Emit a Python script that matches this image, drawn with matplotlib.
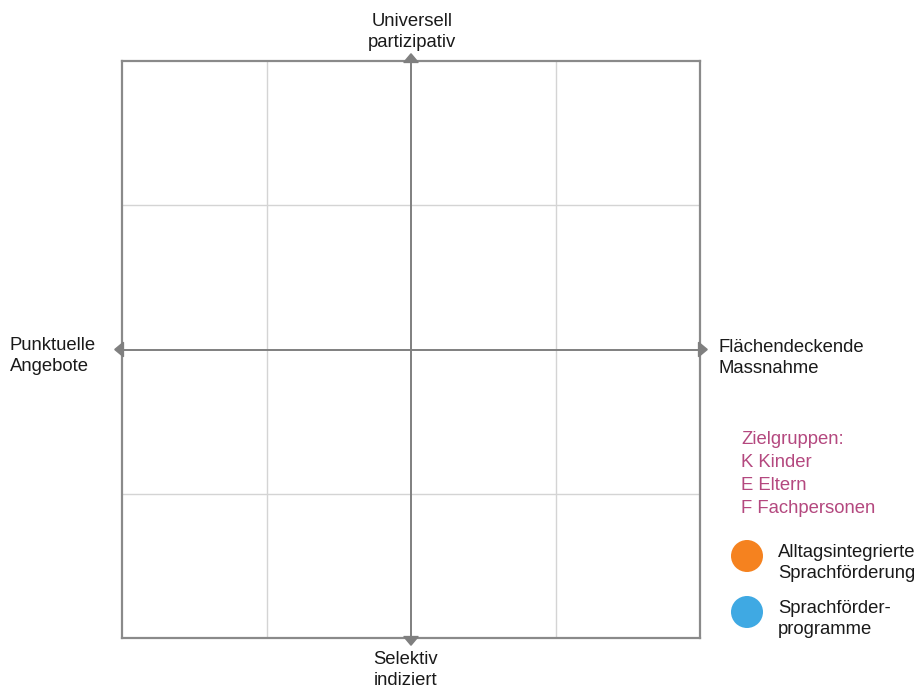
import matplotlib
matplotlib.use("Agg")
import matplotlib.pyplot as plt
from matplotlib.patches import Polygon, Ellipse

plt.rcParams['font.family'] = ['Liberation Sans', 'DejaVu Sans']

# --- data ---
x_range = [-2, 2]
y_range = [-2, 2]
grid_x = [-1, 1]
grid_y = [-1, 1]
axis_top = "Universell\npartizipativ"
axis_bottom = "Selektiv\nindiziert"
axis_left = "Punktuelle\nAngebote"
axis_right = "Flächendeckende\nMassnahme"
target_groups = ["Zielgruppen:", "K Kinder", "E Eltern", "F Fachpersonen"]
legend_labels = ["Alltagsintegrierte\nSprachförderung", "Sprachförder-\nprogramme"]
legend_colors = ["#f5821f", "#3fa9e3"]

W, H = 920, 691
fig = plt.figure(figsize=(W / 100, H / 100), dpi=100)
ax = fig.add_axes([122 / W, 1 - 638 / H, 578 / W, 577 / H])
ax.set_xlim(*x_range)
ax.set_ylim(*y_range)
ax.set_xticks([])
ax.set_yticks([])
for s in ax.spines.values():
    s.set_color("#8a8a8a")
    s.set_linewidth(1.6)

for gx in grid_x:
    ax.axvline(gx, color="#d4d4d4", lw=1.0, zorder=1)
for gy in grid_y:
    ax.axhline(gy, color="#d4d4d4", lw=1.0, zorder=1)

axc = "#7f7f7f"
ext = 0.05
ax.plot([0, 0], [y_range[0] - 0.02, y_range[1] + 0.02], color=axc, lw=1.4, clip_on=False, zorder=3)
ax.plot([x_range[0] - 0.02, x_range[1] + 0.02], [0, 0], color=axc, lw=1.4, clip_on=False, zorder=3)

# arrowheads
hw, hl = 0.05, 0.06
heads = [
    [(0, y_range[1] + ext), (-hw, y_range[1] + ext - hl), (hw, y_range[1] + ext - hl)],
    [(0, y_range[0] - ext), (-hw, y_range[0] - ext + hl), (hw, y_range[0] - ext + hl)],
    [(x_range[1] + ext, 0), (x_range[1] + ext - hl, hw), (x_range[1] + ext - hl, -hw)],
    [(x_range[0] - ext, 0), (x_range[0] - ext + hl, hw), (x_range[0] - ext + hl, -hw)],
]
for h in heads:
    ax.add_patch(Polygon(h, closed=True, color=axc, clip_on=False, zorder=4))

def px(x, y):
    return x / W, 1 - y / H

fs = 13.3
ls = 1.38
tc = "#1a1a1a"
fig.text(*px(412, 32), axis_top, ha="center", va="center", fontsize=fs, color=tc, linespacing=ls)
fig.text(*px(406, 670), axis_bottom, ha="center", va="center", fontsize=fs, color=tc, linespacing=ls)
fig.text(*px(10, 356), axis_left, ha="left", va="center", fontsize=fs, color=tc, linespacing=ls)
fig.text(*px(719, 358), axis_right, ha="left", va="center", fontsize=fs, color=tc, linespacing=ls)

for i, t in enumerate(target_groups):
    fig.text(*px(741, 439 + i * 23.3), t, ha="left", va="center", fontsize=fs, color="#b4487f")

for i, (lab, col) in enumerate(zip(legend_labels, legend_colors)):
    cy = 556 + i * 56
    fig.patches.append(Ellipse(px(747, cy), width=32 / W, height=32 / H,
                       transform=fig.transFigure, facecolor=col, edgecolor="none"))
    fig.text(*px(778, cy + 7), lab, ha="left", va="center", fontsize=fs, color=tc, linespacing=ls)

fig.savefig("out.png", dpi=100)
